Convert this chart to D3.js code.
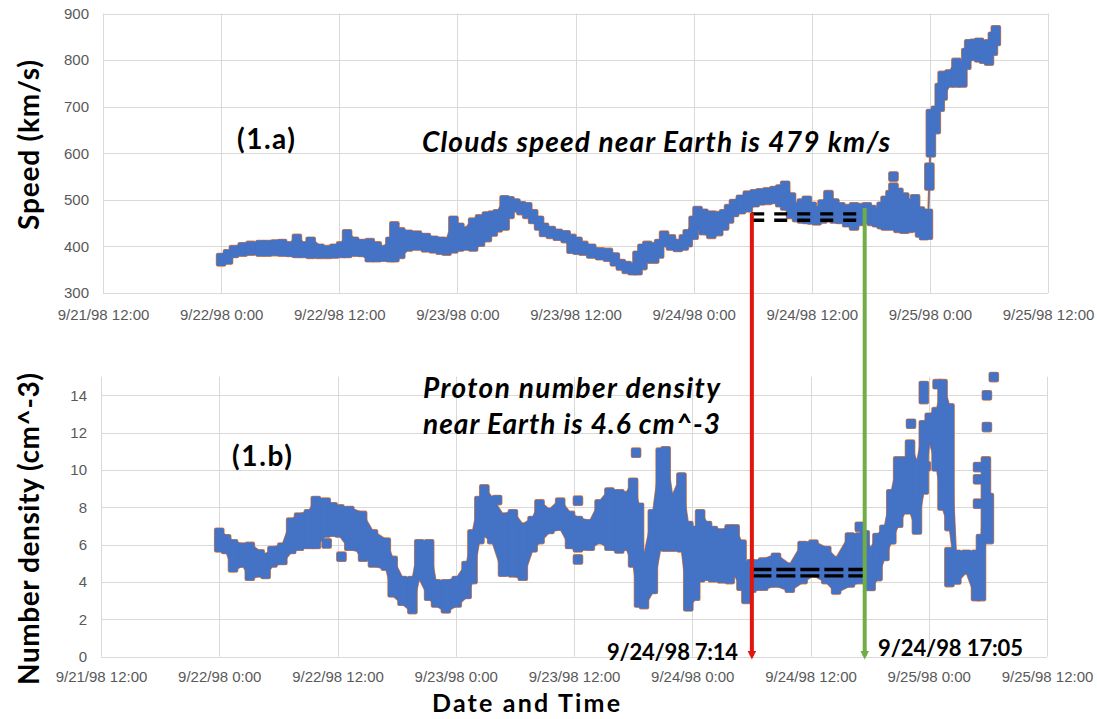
<!DOCTYPE html>
<html lang="en">
<head>
<meta charset="utf-8">
<title>Solar wind speed and proton density</title>
<script src="https://cdn.jsdelivr.net/npm/d3@7"></script>
<style>
  body { margin: 0; background: #fff; }
  svg { display: block; font-family: Lato, "Open Sans", sans-serif; }
  .grid line { stroke: #d9d9d9; stroke-width: 1; }
  .tick text { fill: #595959; font-size: 15px; }
</style>
</head>
<body>
<script>
// hours counted from 9/22/98 0:00
var speedHours = [0, 0.7, 1.3, 2.2, 3, 4, 4.7, 5.5, 6.2, 7, 7.7, 8.4, 9.1, 10, 10.8, 11.5, 12.2, 12.8, 13.5, 14.3,
  15.1, 15.8, 16.5, 17.2, 17.6, 18.2, 19, 19.9, 20.8, 21.6, 22.3, 22.9, 23.6, 24.2, 24.8, 25.6, 26.3, 27, 27.6, 28.1,
  28.8, 29.3, 29.9, 30.5, 31.1, 31.7, 32.3, 32.8, 33.5, 34.2, 35, 35.6, 36.2, 36.8, 37.6, 38.5, 39.3, 40, 40.6, 41.2,
  41.8, 42.3, 42.8, 43.3, 44, 44.5, 45, 45.7, 46.4, 47, 47.4, 48, 48.4, 49, 49.8, 50.5, 51.1, 51.6, 52.1, 52.8,
  53.5, 54.2, 54.8, 55.5, 56.2, 56.8, 57.3, 57.9, 58.5, 59, 59.5, 60, 60.5, 61.1, 61.7, 62.3, 62.9, 63.6, 64.3, 65,
  65.6, 66.1, 66.6, 67.1, 67.5, 68, 68.3, 68.8, 69.4, 69.9, 70.5, 71, 71.4, 71.8, 72.1, 72.6, 73, 73.3, 74, 74.7,
  75.3, 75.7, 76, 76.5, 77, 77.5, 78, 78.4, 78.7]
var speedLow = [368, 372, 386, 389, 391, 389, 389, 390, 389, 388, 386, 386, 384, 384, 384, 385, 386, 386, 389, 388,
  377, 377, 378, 377, 377, 384, 400, 402, 398, 396, 393, 391, 396, 400, 402, 400, 410, 420, 432, 441,
  445, 470, 484, 478, 470, 459, 445, 431, 427, 423, 418, 395, 393, 391, 385, 381, 378, 368, 359, 352,
  349, 349, 360, 374, 374, 385, 409, 402, 399, 402, 409, 425, 445, 435, 427, 433, 445, 460, 474, 480,
  484, 495, 499, 500, 502, 495, 488, 470, 463, 460, 459, 458, 456, 460, 463, 460, 459, 452, 445, 455,
  459, 455, 452, 448, 445, 447, 445, 440, 438, 440, 441, 430, 424, 425, 602, 652, 700, 724, 752, 752,
  752, 790, 809, 810, 806, 803, 799, 820, 841]
var speedHigh = [375, 383, 392, 398, 401, 403, 403, 404, 405, 400, 416, 400, 410, 395, 392, 395, 400, 426, 410, 405,
  407, 400, 392, 410, 443, 430, 425, 423, 418, 412, 410, 409, 455, 440, 432, 451, 458, 464, 466, 469,
  499, 497, 492, 486, 484, 469, 455, 440, 433, 427, 424, 416, 410, 401, 395, 387, 386, 376, 362, 358,
  355, 380, 395, 401, 398, 405, 423, 415, 405, 415, 426, 455, 476, 470, 466, 465, 469, 480, 491, 500,
  509, 512, 514, 516, 519, 522, 530, 505, 484, 492, 498, 485, 476, 490, 510, 492, 484, 480, 484, 482,
  484, 478, 473, 485, 498, 510, 526, 515, 505, 492, 501, 475, 466, 470, 684, 691, 740, 766, 769, 794,
  789, 815, 834, 835, 837, 832, 834, 850, 864]
var speedClusterHours = [71.95]
var speedClusterLow = [531]
var speedClusterHigh = [569]
var speedOutlierHours = [68.3]
var speedOutliers = [550]

var densityHours = [0, 0.7, 1.4, 2.4, 3.1, 4.1, 4.7, 5.4, 6.4, 7.3, 8.1, 9.1, 9.8, 10.8, 11.5, 12.2, 13.2, 14.5, 15.6, 16.9,
  17.6, 18.6, 19.6, 20.3, 21.3, 22, 23, 24.1, 25.1, 25.7, 26.4, 26.9, 27.7, 28.8, 29.8, 30.8, 31.8, 32.5, 33.5, 34.6,
  35.6, 36.4, 37.6, 38.6, 39.6, 40.6, 41.3, 42, 42.6, 43.1, 44, 44.8, 45.3, 46, 46.9, 47.6, 48.3, 48.8, 49.5, 50.1,
  51, 51.8, 52.3, 53, 53.5, 54, 55.2, 56.5, 57.9, 59.2, 60.3, 61.6, 62.6, 64, 65, 65.5, 66.1, 66.8, 67.5, 68.2,
  68.9, 69.6, 70.1, 70.8, 71.5, 72.1, 72.8, 73.4, 74.1, 74.8, 75.8, 76.8, 77.3, 77.8, 78.1]
var densityLow = [5.86, 5.77, 4.79, 5.05, 4.34, 4.52, 4.43, 5.05, 5.18, 5.77, 5.95, 6.04, 6.04, 6.66, 6.7, 6.66, 5.95, 5.77, 5.05, 4.88,
  3.45, 3.0, 2.55, 4.34, 3.27, 2.91, 2.59, 2.91, 3.36, 4.16, 6.3, 6.66, 6.3, 4.55, 4.52, 4.34, 5.86, 6.3, 6.84, 7.02,
  6.04, 5.86, 5.95, 6.3, 5.95, 5.8, 5.95, 5.05, 2.91, 2.82, 3.63, 5.95, 5.9, 5.9, 5.86, 2.7, 3.27, 4.25, 4.34, 4.25,
  4.2, 4.16, 4.52, 3.8, 3.1, 3.7, 3.8, 3.98, 3.7, 4.16, 4.52, 4.16, 3.6, 3.98, 4.16, 4.3, 3.79, 4.32, 5.4, 6.29,
  7.18, 7.9, 7.9, 6.82, 8.96, 11.6, 10.2, 8.1, 7.0, 4.14, 4.68, 3.25, 3.25, 6.46, 6.3]
var densityHigh = [6.64, 6.29, 6.02, 5.84, 5.88, 5.48, 5.3, 5.66, 5.84, 7.18, 7.45, 7.63, 8.34, 8.25, 8.0, 7.89, 7.8, 7.54, 6.55, 6.11,
  5.13, 4.05, 4.05, 6.02, 6.02, 3.88, 3.88, 4.05, 4.86, 6.55, 8.34, 8.96, 8.34, 7.45, 7.63, 6.91, 7.27, 8.16, 7.71, 8.25,
  7.54, 7.27, 7.09, 8.16, 8.79, 8.7, 8.6, 9.32, 7.98, 5.3, 7.63, 10.93, 11.0, 8.5, 9.6, 7.0, 6.73, 7.63, 7.0, 6.73,
  6.6, 6.82, 6.82, 6.0, 4.86, 4.95, 5.04, 5.3, 4.77, 5.93, 6.0, 5.66, 5.12, 6.38, 6.38, 6.5, 5.64, 6.36, 6.8, 8.7,
  10.46, 10.46, 11.36, 10.29, 12.4, 12.8, 13.1, 14.6, 13.3, 5.46, 5.46, 5.46, 6.3, 10.46, 8.5]
var densityClusterHours = [71.5, 74.1]
var densityClusterLow = [13.8, 4.0]
var densityClusterHigh = [14.5, 5.6]
var densityOutlierHours = [10.9, 12.4, 14.6, 28.2, 36.4, 36.4, 42.3, 65.0, 70.2, 71.7, 72.9, 77.0, 77.0, 77.0, 77.9, 77.9, 78.6]
var densityOutliers = [6.07, 5.36, 5.36, 8.39, 8.36, 5.21, 10.93, 6.96, 12.48, 10.2, 14.6, 10.16, 9.5, 8.2, 14.0, 12.3, 14.98]

var xTickLabels = ["9/21/98 12:00", "9/22/98 0:00", "9/22/98 12:00", "9/23/98 0:00", "9/23/98 12:00",
  "9/24/98 0:00", "9/24/98 12:00", "9/25/98 0:00", "9/25/98 12:00"]
var speedTicks = [300, 400, 500, 600, 700, 800, 900]
var densityTicks = [0, 2, 4, 6, 8, 10, 12, 14]

// annotation lines (hours from 9/22/98 0:00) and the mean levels marked by the dashes
var startHour = 54.05
var endHour = 65.5
var speedLevel = 463
var densityLevel = 4.5

var W = 1097, H = 719
var base = new Date(1998, 8, 22, 0, 0)
function t(h) { return new Date(base.getTime() + h * 3600000) }
var xTicks = d3.range(xTickLabels.length).map(function (i) { return t(-12 + i * 12) })

var svg = d3.select("body").append("svg").attr("width", W).attr("height", H)

var defs = svg.append("defs")
function arrowDef(id, color) {
  defs.append("marker").attr("id", id)
    .attr("viewBox", "0 0 10 10").attr("refX", 6).attr("refY", 5)
    .attr("markerWidth", 2.2).attr("markerHeight", 2.2).attr("orient", "auto")
    .append("path").attr("d", "M0,0 L10,5 L0,10 Z").attr("fill", color)
}

var M = 9.5  // marker size

function panel(opts) {
  var x = d3.scaleTime().domain([t(-12), t(84)]).range(opts.xr)
  var y = d3.scaleLinear().domain(opts.yd).range(opts.yr)
  var g = svg.append("g")

  // gridlines
  g.append("g").attr("class", "grid").selectAll("line").data(opts.yTicks).join("line")
    .attr("x1", opts.xr[0]).attr("x2", opts.xr[1])
    .attr("y1", function (d) { return Math.round(y(d)) + 0.5 }).attr("y2", function (d) { return Math.round(y(d)) + 0.5 })
  g.append("g").attr("class", "grid").selectAll("line").data(xTicks).join("line")
    .attr("x1", function (d) { return Math.round(x(d)) + 0.5 }).attr("x2", function (d) { return Math.round(x(d)) + 0.5 })
    .attr("y1", opts.yr[1]).attr("y2", opts.yr[0])

  // axes
  var xa = g.append("g").attr("transform", "translate(0," + opts.yr[0] + ")")
    .call(d3.axisBottom(x).tickValues(xTicks).tickSize(0).tickPadding(opts.pad)
      .tickFormat(function (d, i) { return xTickLabels[i] }))
  xa.select(".domain").remove()
  var ya = g.append("g").attr("transform", "translate(" + (opts.xr[0] - 14) + ",0)")
    .call(d3.axisLeft(y).tickValues(opts.yTicks).tickSize(0).tickPadding(0))
  ya.select(".domain").remove()

  // data
  var main = opts.hours.map(function (h, i) { return { h: h, lo: opts.low[i], hi: opts.high[i] } })
  var extra = opts.cHours.map(function (h, i) { return { h: h, lo: opts.cLow[i], hi: opts.cHigh[i] } })
  var cols = main.concat(extra)
  var pts = opts.oHours.map(function (h, i) { return { h: h, v: opts.outliers[i] } })

  var area = d3.area().x(function (d) { return x(t(d.h)) })
    .y0(function (d) { return y(d.lo) + M / 2 - 1 }).y1(function (d) { return y(d.hi) - M / 2 + 1 })

  function drawMarks(layer, fill, stroke, sw) {
    layer.append("path").datum(main).attr("d", area).attr("fill", fill)
      .attr("stroke", stroke).attr("stroke-width", sw)
    layer.selectAll("rect.col").data(cols).join("rect").attr("class", "col")
      .attr("x", function (d) { return x(t(d.h)) - M / 2 })
      .attr("y", function (d) { return y(d.hi) - M / 2 })
      .attr("width", M).attr("height", function (d) { return y(d.lo) - y(d.hi) + M })
      .attr("rx", 1.5).attr("fill", fill).attr("stroke", stroke).attr("stroke-width", sw)
    layer.selectAll("rect.pt").data(pts).join("rect").attr("class", "pt")
      .attr("x", function (d) { return x(t(d.h)) - M / 2 })
      .attr("y", function (d) { return y(d.v) - M / 2 })
      .attr("width", M).attr("height", M)
      .attr("rx", 1.5).attr("fill", fill).attr("stroke", stroke).attr("stroke-width", sw)
  }
  drawMarks(g.append("g"), "#ed7d31", "#ed7d31", 1.2)
  drawMarks(g.append("g"), "#4472c4", "none", 0)

  return { x: x, y: y, g: g }
}

var speedPanel = panel({
  xr: [103, 1048], yd: [300, 900], yr: [293, 13.5], yTicks: speedTicks, pad: 16,
  hours: speedHours, low: speedLow, high: speedHigh,
  cHours: speedClusterHours, cLow: speedClusterLow, cHigh: speedClusterHigh,
  oHours: speedOutlierHours, outliers: speedOutliers
})
var densityPanel = panel({
  xr: [101, 1047], yd: [0, 15], yr: [656.7, 376.7], yTicks: densityTicks, pad: 15,
  hours: densityHours, low: densityLow, high: densityHigh,
  cHours: densityClusterHours, cLow: densityClusterLow, cHigh: densityClusterHigh,
  oHours: densityOutlierHours, outliers: densityOutliers
})

// dashed mean levels
function dashes(p, level, x0, x1, pattern) {
  [-3.2, 3.2].forEach(function (off) {
    svg.append("line")
      .attr("x1", p.x(t(x0))).attr("x2", p.x(t(x1)))
      .attr("y1", p.y(level) + off).attr("y2", p.y(level) + off)
      .attr("stroke", "#000").attr("stroke-width", 3.4).attr("stroke-dasharray", pattern)
  })
}
dashes(speedPanel, speedLevel, startHour - 0.2, endHour - 0.3, "13,10")
dashes(densityPanel, densityLevel, startHour + 0.05, endHour, "19,5")

// vertical red / green lines with arrowheads
arrowDef("arRed", "#e0160c")
arrowDef("arGreen", "#70ad47")
var xs = densityPanel.x
svg.append("line").attr("x1", xs(t(startHour))).attr("x2", xs(t(startHour)))
  .attr("y1", speedPanel.y(speedLevel) - 4).attr("y2", 656)
  .attr("stroke", "#e0160c").attr("stroke-width", 4).attr("marker-end", "url(#arRed)")
svg.append("line").attr("x1", xs(t(endHour))).attr("x2", xs(t(endHour)))
  .attr("y1", speedPanel.y(speedLevel) - 9).attr("y2", 656)
  .attr("stroke", "#70ad47").attr("stroke-width", 4).attr("marker-end", "url(#arGreen)")

// texts; width given as in the picture, letter spacing adjusted to fit
function txt(s, xx, yy, size, width, opts) {
  opts = opts || {}
  var el = svg.append("text").attr("x", xx).attr("y", yy).text(s)
    .attr("font-size", size).attr("font-weight", "bold")
    .attr("font-style", opts.italic ? "italic" : null)
    .attr("text-anchor", opts.anchor || "start")
    .attr("dominant-baseline", "central")
    .attr("fill", "#000")
  if (width) el.attr("textLength", width).attr("lengthAdjust", "spacing")
  return el
}
txt("(1.a)", 237, 138, 28, 58)
txt("(1.b)", 232, 455, 28, 60)
txt("Clouds speed near Earth is 479 km/s", 422, 141, 28, 468, { italic: true })
txt("Proton number density", 423, 387, 28, 297, { italic: true })
txt("near Earth is 4.6 cm^-3", 423, 423, 28, 297, { italic: true })
txt("9/24/98 7:14", 607, 651, 22, 131)
txt("9/24/98 17:05", 878, 647, 22, 145)
txt("Date and Time", 526, 702, 25, 188, { anchor: "middle" })
txt("Speed (km/s)", 0, 0, 28, 170, { anchor: "middle" }).attr("transform", "translate(28,145) rotate(-90)")
txt("Number density (cm^-3)", 0, 0, 28, 312, { anchor: "middle" }).attr("transform", "translate(28,529) rotate(-90)")
</script>
</body>
</html>
